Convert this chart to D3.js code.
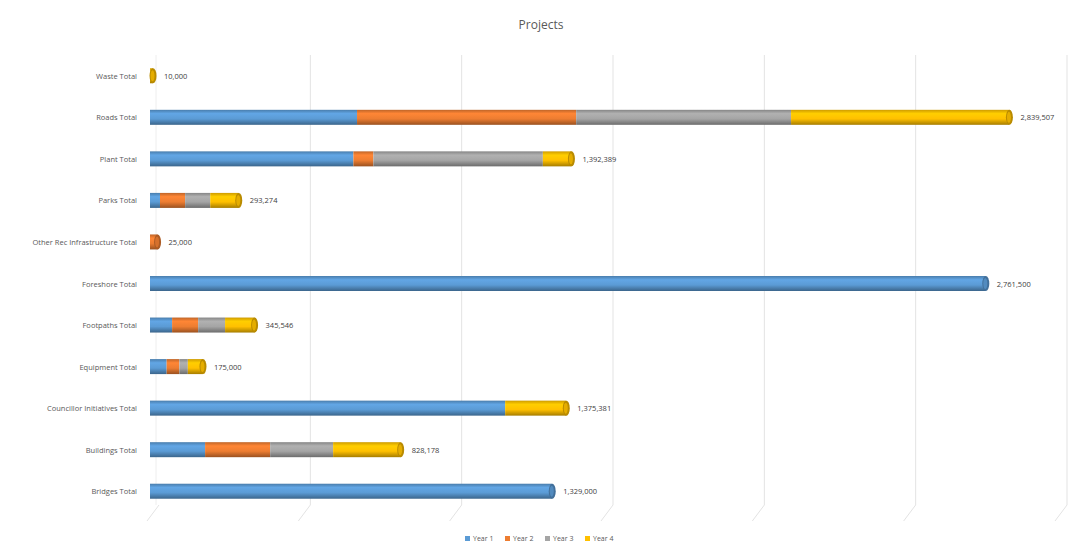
<!DOCTYPE html>
<html>
<head>
<meta charset="utf-8">
<script src="https://cdn.jsdelivr.net/npm/d3@7"></script>
<style>
  body { margin: 0; background: #fff; }
  svg { font-family: "Open Sans", "Liberation Sans", sans-serif; }
</style>
</head>
<body>
<div id="chart"></div>
<script>
const categories = ["Waste Total", "Roads Total", "Plant Total", "Parks Total",
  "Other Rec Infrastructure Total", "Foreshore Total", "Footpaths Total",
  "Equipment Total", "Councillor Initiatives Total", "Buildings Total", "Bridges Total"];
const seriesNames = ["Year 1", "Year 2", "Year 3", "Year 4"];
const year1 = [0, 684000, 672000, 33000, 0, 2761500, 73000, 55000, 1173381, 182000, 1329000];
const year2 = [0, 724000, 66000, 83000, 25000, 0, 86000, 42000, 0, 215000, 0];
const year3 = [0, 710000, 560000, 83000, 0, 0, 89000, 28000, 0, 208000, 0];
const year4 = [10000, 721507, 94389, 94274, 0, 0, 97546, 50000, 202000, 223178, 0];
const xTicks = [0, 500000, 1000000, 1500000, 2000000, 2500000, 3000000];

const colors = ["#5B9BD5", "#ED7D31", "#A5A5A5", "#FFC000"];
const W = 1071, H = 547;

const rows = categories.map((c, i) => {
  const vals = [year1[i], year2[i], year3[i], year4[i]];
  let acc = 0;
  const segs = vals.map((v, k) => { const s = { k, x0: acc, x1: acc + v }; acc += v; return s; })
    .filter(s => s.x1 > s.x0);
  return { cat: c, segs, total: acc };
});

const svg = d3.select("#chart").append("svg").attr("width", W).attr("height", H);

const x = d3.scaleLinear().domain([0, 3000000]).range([150, 1058]);
const y = d3.scaleBand().domain(categories).range([55, 512]);
const barH = 15;

// gradients for cylinder look
const defs = svg.append("defs");
colors.forEach((c, k) => {
  const g = defs.append("linearGradient").attr("id", "g" + k)
    .attr("x1", 0).attr("y1", 0).attr("x2", 0).attr("y2", 1);
  g.append("stop").attr("offset", "0%").attr("stop-color", d3.color(c).darker(0.6));
  g.append("stop").attr("offset", "25%").attr("stop-color", d3.color(c).brighter(0.2));
  g.append("stop").attr("offset", "60%").attr("stop-color", c);
  g.append("stop").attr("offset", "100%").attr("stop-color", d3.color(c).darker(1.2));
});

// back wall gridlines + floor lines
const grid = svg.append("g");
grid.selectAll("line.v").data(xTicks.slice(1)).join("line")
  .attr("x1", d => x(d) + 9).attr("x2", d => x(d) + 9)
  .attr("y1", 55).attr("y2", 505)
  .attr("stroke", "#e3e3e3").attr("stroke-width", 1);
grid.selectAll("line.f").data(xTicks).join("line")
  .attr("x1", d => x(d) + 9).attr("x2", d => x(d) - 3)
  .attr("y1", 505).attr("y2", 521)
  .attr("stroke", "#e3e3e3").attr("stroke-width", 1);
grid.append("line")
  .attr("x1", x(0) + 6).attr("x2", x(0) + 6).attr("y1", 55).attr("y2", 505)
  .attr("stroke", "#eeeeee");

// title
svg.append("text").attr("x", 541).attr("y", 29).attr("text-anchor", "middle")
  .attr("font-size", 12).attr("fill", "#595959").text("Projects");

// category labels
svg.append("g").selectAll("text").data(categories).join("text")
  .attr("x", 137).attr("y", d => y(d) + y.bandwidth() / 2 + 3)
  .attr("text-anchor", "end").attr("font-size", 7.5).attr("fill", "#595959")
  .text(d => d);

// bars
const bars = svg.append("g").selectAll("g").data(rows).join("g")
  .attr("transform", d => `translate(0,${y(d.cat) + y.bandwidth() / 2 - barH / 2})`);

bars.selectAll("rect").data(d => d.segs).join("rect")
  .attr("x", s => x(s.x0)).attr("width", s => x(s.x1) - x(s.x0))
  .attr("y", 0).attr("height", barH)
  .attr("fill", s => `url(#g${s.k})`);

// end caps
bars.append("ellipse")
  .attr("cx", d => x(d.total)).attr("cy", barH / 2)
  .attr("rx", 3.5).attr("ry", barH / 2)
  .attr("fill", d => d3.color(colors[d.segs[d.segs.length - 1].k]).darker(0.9));
bars.append("ellipse")
  .attr("cx", d => x(d.total) - 0.5).attr("cy", barH / 2)
  .attr("rx", 2).attr("ry", barH / 2 - 2)
  .attr("fill", d => d3.color(colors[d.segs[d.segs.length - 1].k]).darker(0.3));

// total labels
bars.append("text")
  .attr("x", d => x(d.total) + 11).attr("y", barH / 2 + 3)
  .attr("font-size", 7.5).attr("fill", "#404040")
  .text(d => d3.format(",")(d.total));

// legend
const leg = svg.append("g").attr("transform", "translate(465,541)");
const item = leg.selectAll("g").data(seriesNames).join("g")
  .attr("transform", (d, i) => `translate(${i * 40},0)`);
item.append("rect").attr("x", 0).attr("y", -5).attr("width", 5).attr("height", 5)
  .attr("fill", (d, i) => colors[i]);
item.append("text").attr("x", 8).attr("y", 0).attr("font-size", 7)
  .attr("fill", "#595959").text(d => d);
</script>
</body>
</html>
